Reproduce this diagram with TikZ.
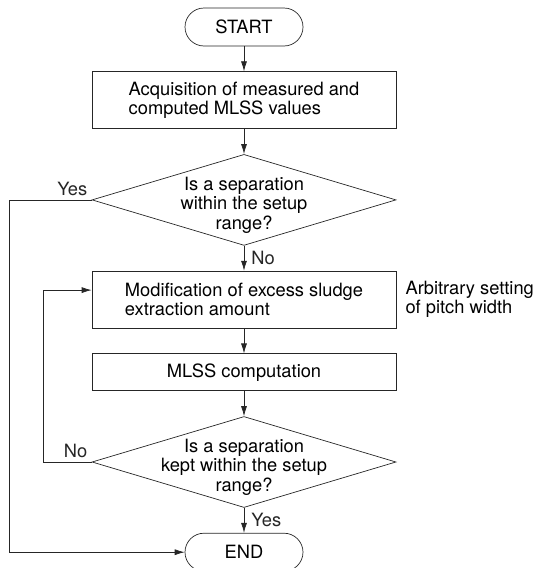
\documentclass[tikz,border=0pt]{standalone}
\usepackage{fontspec}
\setmainfont{TeX Gyre Heros}
\usetikzlibrary{arrows.meta,positioning,shapes}
\newcommand{\dropped}[1]{\raisebox{-6pt}[\height][\depth]{\begin{tabular}{@{}c@{}}#1\end{tabular}}}

\begin{document}
\begin{tikzpicture}[
      x=1pt, y=-1pt,
      node distance = 25pt and 6pt,
      every node/.style = {font=\fontsize{18.3}{19.3}\selectfont},
      term/.style = {rectangle, rounded corners=19pt, draw=black!85, line width=0.7pt, minimum width=118pt, minimum height=38pt},
      box/.style = {rectangle, draw=black!85, line width=0.7pt, minimum width=304pt, align=left},
      decide/.style = {diamond, aspect=3.34, draw=black!85, line width=0.7pt, minimum width=304pt, minimum height=91pt, inner xsep=-40pt, inner ysep=-20pt},
      tag/.style = {inner sep=4pt},
      arrow/.style = {-{Latex[length=10pt,width=6pt]}, line width=0.7pt, black!85}
    ]
    \useasboundingbox (0,0) rectangle (537,568);
    \node[term] (start) at (244,27) {START};
    \node[box, minimum height=57pt, below=of start] (acq) {Acquisition of measured and\\computed MLSS values};
    \node[decide, below=of acq] (sep) {\dropped{Is a separation\\within the setup\\range?}};
    \node[box, minimum height=57pt, below=of sep] (mod) {Modification of excess sludge\\extraction amount};
    \node[right=of mod, align=left, inner sep=3pt] (pitch) {Arbitrary setting\\of pitch width};
    \node[box, minimum height=37pt, below=of mod] (mlss) {MLSS computation};
    \node[decide, below=of mlss] (kept) {\dropped{Is a separation\\kept within the setup\\range?}};
    \node[term, below=of kept] (end) {END};
    \coordinate (lft) at (9.5,0);
    \coordinate (loop) at (43,0);
    \draw[arrow] (start) -- (acq);
    \draw[arrow] (acq) -- (sep);
    \draw[arrow] (sep) -- node[tag, right, xshift=3pt] {No} (mod);
    \draw[arrow] (mod) -- (mlss);
    \draw[arrow] (mlss) -- (kept);
    \draw[arrow] (kept) -- node[tag, right, xshift=3pt] {Yes} (end);
    \draw[arrow] (sep.west) node[tag, above left] {Yes} -- (sep.west -| lft) |- (end.west);
    \draw[arrow] (kept.west) node[tag, above left] {No} -- (kept.west -| loop) |- ([yshift=9.5pt]mod.west);
  \end{tikzpicture}
\end{document}
